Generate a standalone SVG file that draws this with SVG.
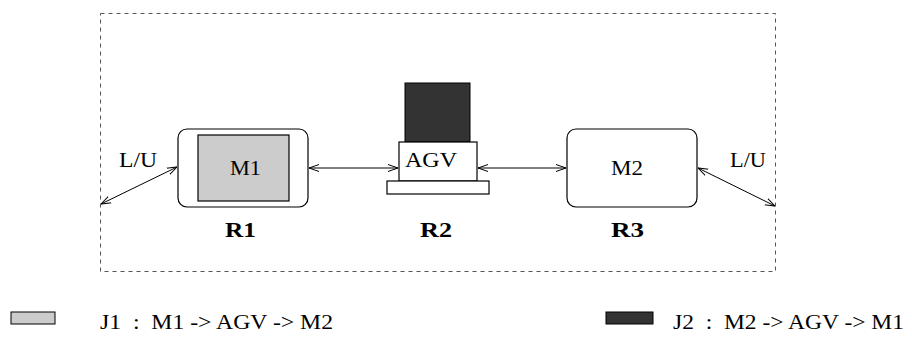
<svg xmlns="http://www.w3.org/2000/svg" width="912" height="337" viewBox="0 0 912 337">
<style>
.t{font-family:"Liberation Serif","Times New Roman",serif;font-size:20px;fill:#000}
.b{font-family:"Liberation Serif","Times New Roman",serif;font-size:22px;font-weight:bold;fill:#000}
.c{stroke:#000;stroke-width:1;fill:none}
.box{stroke:#000;stroke-width:1.2;fill:#fff}
</style>
<defs>
<marker id="a" viewBox="0 0 10 10" refX="10" refY="5" markerWidth="10" markerHeight="10" markerUnits="userSpaceOnUse" orient="auto-start-reverse">
<path d="M0,1.5 L10,5 L0,8.5" fill="none" stroke="#000" stroke-width="1"/>
</marker>
</defs>
<rect x="100.5" y="13.5" width="675" height="258" fill="none" stroke="#555" stroke-width="1" stroke-dasharray="4,4"/>
<g id="R1">
<rect class="box" x="178" y="129" width="130" height="78" rx="9"/>
<rect x="198" y="135" width="91" height="66" fill="#ccc" stroke="#000" stroke-width="1.2"/>
<text class="t" x="230" y="175" textLength="31" lengthAdjust="spacingAndGlyphs">M1</text>
<text class="b" x="225" y="237" textLength="31" lengthAdjust="spacingAndGlyphs">R1</text>
</g>
<g id="R2">
<rect x="405" y="83" width="65" height="59" fill="#333" stroke="#000" stroke-width="1"/>
<rect class="box" x="399" y="142" width="78" height="39"/>
<rect class="box" x="387" y="181" width="102" height="13"/>
<text class="t" x="405" y="167" font-size="21" textLength="52" lengthAdjust="spacingAndGlyphs">AGV</text>
<text class="b" x="420" y="237" textLength="32" lengthAdjust="spacingAndGlyphs">R2</text>
</g>
<g id="R3">
<rect class="box" x="567" y="129" width="130" height="78" rx="9"/>
<text class="t" x="611" y="175" textLength="32" lengthAdjust="spacingAndGlyphs">M2</text>
<text class="b" x="611" y="237" textLength="33" lengthAdjust="spacingAndGlyphs">R3</text>
</g>
<g id="LU1"><text class="t" x="119" y="167" textLength="38" lengthAdjust="spacingAndGlyphs">L/U</text></g>
<g id="LU2"><text class="t" x="730" y="167" textLength="36" lengthAdjust="spacingAndGlyphs">L/U</text></g>
<g id="connectors">
<line class="c" x1="101" y1="204" x2="177" y2="167" marker-start="url(#a)" marker-end="url(#a)"/>
<line class="c" x1="309" y1="168" x2="398" y2="168" marker-start="url(#a)" marker-end="url(#a)"/>
<line class="c" x1="478" y1="168" x2="566" y2="168" marker-start="url(#a)" marker-end="url(#a)"/>
<line class="c" x1="698" y1="168" x2="775" y2="206" marker-start="url(#a)" marker-end="url(#a)"/>
</g>
<g id="legend1">
<rect x="11" y="312" width="44" height="12" fill="#ccc" stroke="#000" stroke-width="1"/>
<text class="t" x="100" y="329" xml:space="preserve" textLength="233" lengthAdjust="spacingAndGlyphs">J1  :  M1 -&gt; AGV -&gt; M2</text>
</g>
<g id="legend2">
<rect x="606" y="312" width="47" height="12" fill="#333" stroke="#000" stroke-width="1"/>
<text class="t" x="673" y="329" xml:space="preserve" textLength="231" lengthAdjust="spacingAndGlyphs">J2  :  M2 -&gt; AGV -&gt; M1</text>
</g>
</svg>
